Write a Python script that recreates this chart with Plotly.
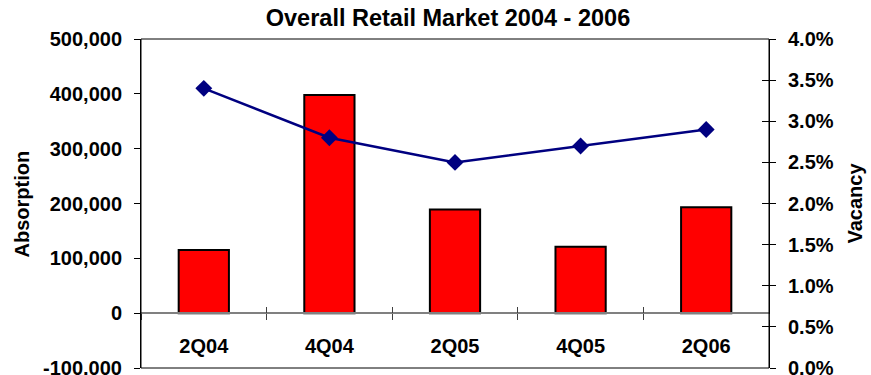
import plotly.graph_objects as go

categories = ["2Q04", "4Q04", "2Q05", "4Q05", "2Q06"]
absorption = [115000, 398000, 189000, 121000, 193000]
vacancy = [0.034, 0.028, 0.025, 0.027, 0.029]

left_tickvals = [-100000, 0, 100000, 200000, 300000, 400000, 500000]
left_ticktext = ["-100,000", "0", "100,000", "200,000", "300,000", "400,000", "500,000"]
right_tickvals = [0.0, 0.005, 0.01, 0.015, 0.02, 0.025, 0.03, 0.035, 0.04]

y_range = [-100000, 500000]
y2_range = [0.0, 0.04]
zero_pos = (0 - y_range[0]) / (y_range[1] - y_range[0])

FONT = "Liberation Sans, Arial, sans-serif"
tick_font = dict(family=FONT, size=20, color="black", weight="bold")

fig = go.Figure()
fig.add_trace(go.Bar(
    x=categories, y=absorption, name="Absorption",
    marker=dict(color="#FF0000", line=dict(color="black", width=2)),
    width=0.4, xaxis="x", yaxis="y",
))
fig.add_trace(go.Scatter(
    x=categories, y=vacancy, name="Vacancy", mode="lines+markers",
    line=dict(color="#000080", width=2.5),
    marker=dict(symbol="diamond", size=13, color="#000080"),
    xaxis="x", yaxis="y2",
))
# invisible helpers so overlay axes (crossing tick marks) are drawn
fig.add_trace(go.Scatter(x=categories, y=[0]*5, mode="markers", marker=dict(opacity=0),
                         hoverinfo="skip", showlegend=False, xaxis="x2", yaxis="y"))
fig.add_trace(go.Scatter(x=categories, y=vacancy, mode="markers", marker=dict(opacity=0),
                         hoverinfo="skip", showlegend=False, xaxis="x", yaxis="y3"))

fig.update_layout(
    width=871, height=375,
    margin=dict(l=141, r=102, t=39, b=7, autoexpand=False),
    paper_bgcolor="white", plot_bgcolor="white",
    showlegend=False,
    bargap=0.6,
    title=dict(text="Overall Retail Market 2004 - 2006",
               x=(448 - 141) / 628, xref="paper", xanchor="center",
               y=1 - 18 / 375, yref="container", yanchor="middle",
               font=dict(family=FONT, size=23.5, color="black", weight="bold")),
    xaxis=dict(type="category", categoryorder="array", categoryarray=categories,
               range=[-0.5, 4.5], anchor="free", position=zero_pos, automargin=False,
               showline=True, linecolor="#808080", linewidth=1.5,
               ticks="outside", tickson="boundaries", ticklen=6, tickcolor="#404040",
               tickfont=tick_font, ticklabelstandoff=15,
               showgrid=False, zeroline=False),
    xaxis2=dict(type="category", categoryorder="array", categoryarray=categories,
                range=[-0.5, 4.5], anchor="free", position=zero_pos, overlaying="x",
                automargin=False,
                showline=False, ticks="inside", tickson="boundaries", ticklen=6,
                tickcolor="#404040", showticklabels=False, showgrid=False, zeroline=False),
    yaxis=dict(range=y_range, tickvals=left_tickvals, ticktext=left_ticktext,
               automargin=False,
               ticks="outside", ticklen=6, tickcolor="black",
               showline=True, linecolor="black", linewidth=1,
               tickfont=tick_font, showgrid=False, zeroline=False, ticklabelstandoff=8,
               ticklabeloverflow="allow"),
    yaxis2=dict(range=y2_range, tickvals=right_tickvals, tickformat=".1%",
                overlaying="y", side="right", anchor="x", automargin=False,
                ticks="outside", ticklen=6, tickcolor="black",
                showline=True, linecolor="black", linewidth=1,
                tickfont=tick_font, showgrid=False, zeroline=False, ticklabelstandoff=8,
                ticklabeloverflow="allow"),
    yaxis3=dict(range=y2_range, tickvals=right_tickvals, overlaying="y", side="right",
                anchor="x", ticks="inside", ticklen=7, tickcolor="black", automargin=False,
                showticklabels=False, showline=False, showgrid=False, zeroline=False),
    shapes=[dict(type="rect", xref="paper", yref="paper", x0=0, x1=1, y0=0, y1=1,
                 line=dict(color="black", width=1), layer="above")],
    annotations=[
        dict(text="Absorption", xref="paper", yref="paper",
             x=(21 - 141) / 628, y=0.5, textangle=-90, showarrow=False,
             xanchor="center", yanchor="middle",
             font=dict(family=FONT, size=20, color="black", weight="bold")),
        dict(text="Vacancy", xref="paper", yref="paper",
             x=(854 - 141) / 628, y=0.5, textangle=-90, showarrow=False,
             xanchor="center", yanchor="middle",
             font=dict(family=FONT, size=20, color="black", weight="bold")),
    ],
)

fig.write_html("out.html")
